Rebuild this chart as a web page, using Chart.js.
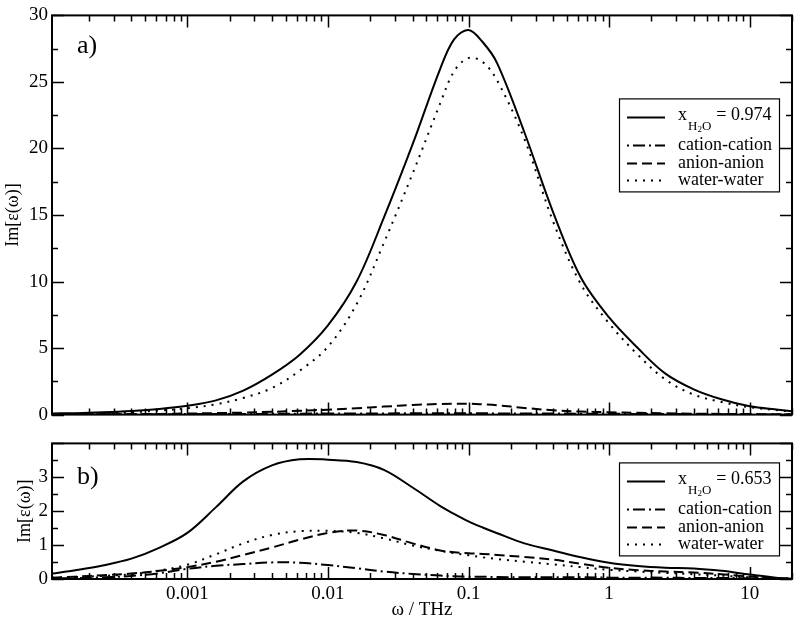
<!DOCTYPE html>
<html lang="en">
<head>
<meta charset="UTF-8">
<title>Im[ε(ω)] spectra</title>
<script src="https://cdn.jsdelivr.net/npm/chart.js"></script>
<style>
  body { margin: 0; background: #fff; }
  #wrap { position: relative; width: 800px; height: 623px; }
  #wrap canvas { position: absolute; left: 0; }
  #chartA { top: 0; }
  #chartB { top: 428px; }
</style>
</head>
<body>
<div id="wrap">
  <canvas id="chartA" width="800" height="430"></canvas>
  <canvas id="chartB" width="800" height="195"></canvas>
</div>
<script>
// frequency grid (THz), ~5 points per decade (denser round the peak), shared by every curve
const freqs = [1.09e-4, 1.6e-4, 2.5e-4, 4e-4, 6.3e-4, 0.001, 0.0016, 0.0025, 0.004, 0.0063,
  0.01, 0.016, 0.025, 0.04, 0.063, 0.079, 0.1, 0.126, 0.16, 0.25, 0.4, 0.63, 1, 1.6, 2.5, 4, 6.3, 10, 16, 20];

// panel a)  x_H2O = 0.974
const totalA  = [0.08, 0.11, 0.17, 0.27, 0.42, 0.66, 1.07, 1.8, 3.0, 4.5, 6.7, 10.0, 14.8, 20.3, 26.0, 28.2, 28.9, 28.0, 26.4, 21.2, 15.2, 10.3, 7.3, 5.0, 3.1, 1.9, 1.15, 0.62, 0.36, 0.25];
const cationA = [0.01, 0.01, 0.02, 0.02, 0.03, 0.04, 0.05, 0.05, 0.06, 0.07, 0.08, 0.09, 0.09, 0.1, 0.1, 0.1, 0.1, 0.1, 0.09, 0.08, 0.08, 0.07, 0.06, 0.05, 0.05, 0.04, 0.03, 0.02, 0.01, 0.01];
const anionA  = [0.01, 0.02, 0.02, 0.03, 0.05, 0.08, 0.11, 0.15, 0.21, 0.29, 0.37, 0.48, 0.6, 0.72, 0.8, 0.82, 0.82, 0.77, 0.7, 0.5, 0.32, 0.23, 0.18, 0.13, 0.1, 0.07, 0.05, 0.04, 0.03, 0.02];
const waterA  = [0.05, 0.07, 0.11, 0.18, 0.3, 0.48, 0.78, 1.25, 2.0, 3.3, 5.1, 8.3, 12.9, 18.1, 23.4, 25.8, 26.8, 26.5, 25.1, 20.7, 14.5, 9.8, 6.85, 4.5, 2.65, 1.5, 0.95, 0.55, 0.33, 0.22];

// panel b)  x_H2O = 0.653
const totalB  = [0.16, 0.26, 0.4, 0.6, 0.92, 1.36, 2.12, 2.88, 3.35, 3.53, 3.52, 3.45, 3.22, 2.7, 2.15, 1.92, 1.7, 1.52, 1.35, 1.05, 0.84, 0.64, 0.48, 0.38, 0.33, 0.31, 0.24, 0.13, 0.03, 0.01];
const cationB = [0.02, 0.03, 0.05, 0.09, 0.17, 0.3, 0.39, 0.44, 0.49, 0.48, 0.41, 0.32, 0.22, 0.15, 0.1, 0.08, 0.07, 0.065, 0.06, 0.05, 0.05, 0.05, 0.04, 0.04, 0.04, 0.03, 0.03, 0.02, 0.01, 0.0];
const anionB  = [0.04, 0.07, 0.11, 0.16, 0.24, 0.35, 0.51, 0.71, 0.93, 1.16, 1.36, 1.43, 1.3, 1.05, 0.84, 0.79, 0.76, 0.74, 0.71, 0.65, 0.57, 0.45, 0.33, 0.26, 0.22, 0.19, 0.14, 0.07, 0.02, 0.01];
const waterB  = [0.04, 0.06, 0.09, 0.14, 0.25, 0.42, 0.73, 1.05, 1.3, 1.41, 1.42, 1.36, 1.2, 0.99, 0.83, 0.76, 0.7, 0.64, 0.59, 0.51, 0.43, 0.35, 0.27, 0.22, 0.18, 0.14, 0.1, 0.05, 0.02, 0.01];

const xTicks = [0.001, 0.01, 0.1, 1, 10];
const xTickLabels = ['0.001', '0.01', '0.1', '1', '10'];
const yTicksA = [0, 5, 10, 15, 20, 25, 30];
const yTicksB = [0, 1, 2, 3];
const seriesNames = ['cation-cation', 'anion-anion', 'water-water'];
const mixA = '0.974';
const mixB = '0.653';

const FONT = '"Liberation Serif", "Times New Roman", serif';
Chart.defaults.font.family = FONT;
Chart.defaults.font.size = 19;
Chart.defaults.color = '#000';

// solid, dash-dot, dashed, dotted
const dashes = [[], [2, 4, 12, 4], [10, 5], [2, 6]];

function pts(ys) {
  return freqs.map((f, i) => ({ x: f, y: ys[i] }));
}

// inward ticks, frame box, panel tag and legend (xmgrace look)
function decor(p) {
  return {
    id: 'decor',
    afterDraw(chart) {
      const { ctx, chartArea: a, scales } = chart;
      const x = scales.x, y = scales.y;
      ctx.save();
      ctx.strokeStyle = '#000';
      ctx.lineWidth = 1.5;
      ctx.beginPath();
      for (let e = -4; e <= 1; e++) {
        for (let m = 1; m < 10; m++) {
          const v = m * Math.pow(10, e);
          if (v < x.min || v > x.max) continue;
          const px = Math.round(x.getPixelForValue(v)) + 0.5;
          const len = m === 1 ? 12 : 6;
          ctx.moveTo(px, a.bottom); ctx.lineTo(px, a.bottom - len);
          ctx.moveTo(px, a.top); ctx.lineTo(px, a.top + len);
        }
      }
      const n = Math.round((y.max - y.min) / p.minor);
      for (let i = 0; i <= n; i++) {
        const v = y.min + i * p.minor;
        const py = Math.round(y.getPixelForValue(v)) + 0.5;
        const len = i % 2 === 0 ? 12 : 6;
        ctx.moveTo(a.left, py); ctx.lineTo(a.left + len, py);
        ctx.moveTo(a.right, py); ctx.lineTo(a.right - len, py);
      }
      ctx.stroke();
      ctx.lineWidth = 2;
      ctx.strokeRect(a.left, a.top, a.right - a.left, a.bottom - a.top);

      // panel tag
      ctx.fillStyle = '#000';
      ctx.font = '26px ' + FONT;
      ctx.textBaseline = 'alphabetic';
      ctx.fillText(p.tag, a.left + 25, a.top + p.tagY);

      // legend box
      const bx = a.right - 173, by = a.top + p.legendTop, bw = 160, bh = 93;
      ctx.fillStyle = '#fff';
      ctx.fillRect(bx, by, bw, bh);
      ctx.lineWidth = 1.2;
      ctx.strokeRect(bx + 0.5, by + 0.5, bw, bh);
      const rows = [19, 47, 65, 82];
      ctx.lineWidth = 2;
      rows.forEach((ry, i) => {
        ctx.setLineDash(dashes[i]);
        ctx.beginPath();
        ctx.moveTo(bx + 8, by + ry);
        ctx.lineTo(bx + 46, by + ry);
        ctx.stroke();
      });
      ctx.setLineDash([]);
      ctx.fillStyle = '#000';
      const tx = bx + 59;
      // header: x_{H2O} = value
      let cx = tx;
      ctx.font = '18px ' + FONT;
      ctx.fillText('x', cx, by + rows[0] + 3);
      cx += ctx.measureText('x').width + 1;
      ctx.font = '13px ' + FONT;
      ctx.fillText('H', cx, by + rows[0] + 13);
      cx += ctx.measureText('H').width;
      ctx.font = '9px ' + FONT;
      ctx.fillText('2', cx, by + rows[0] + 15);
      cx += ctx.measureText('2').width;
      ctx.font = '13px ' + FONT;
      ctx.fillText('O', cx, by + rows[0] + 13);
      cx += ctx.measureText('O').width + 5;
      ctx.font = '18px ' + FONT;
      ctx.fillText('= ' + p.mix, cx, by + rows[0] + 3);
      seriesNames.forEach((s, i) => {
        ctx.fillText(s, tx, by + rows[i + 1] + 5);
      });
      ctx.restore();
    }
  };
}

function makeChart(id, p) {
  const sets = [p.total, p.cation, p.anion, p.water];
  const labels = ['total', ...seriesNames];
  return new Chart(document.getElementById(id), {
    type: 'line',
    data: {
      datasets: sets.map((d, i) => ({
        label: labels[i],
        data: pts(d),
        borderColor: '#000',
        borderWidth: 2,
        borderDash: dashes[i],
        pointRadius: 0,
        fill: false,
        tension: 0.35
      }))
    },
    options: {
      responsive: false,
      animation: false,
      layout: { padding: { top: p.padTop, right: 8, left: 0, bottom: 0 } },
      plugins: { legend: { display: false }, tooltip: { enabled: false } },
      scales: {
        x: {
          type: 'logarithmic',
          bounds: 'data',
          min: 1.09e-4,
          max: 20,
          grid: { display: false, drawTicks: false },
          border: { display: false },
          afterBuildTicks: s => { s.ticks = xTicks.map(v => ({ value: v })); },
          afterFit: s => { s.height = p.xHeight; },
          ticks: {
            display: p.xLabels,
            autoSkip: false,
            maxRotation: 0,
            padding: 4,
            callback: v => xTickLabels[xTicks.indexOf(v)]
          },
          title: {
            display: p.xLabels,
            text: 'ω / THz',
            padding: { top: 0, bottom: 2 }
          }
        },
        y: {
          min: 0,
          max: p.yMax,
          grid: { display: false, drawTicks: false },
          border: { display: false },
          afterBuildTicks: s => { s.ticks = p.yTicks.map(v => ({ value: v })); },
          afterFit: s => { s.width = 52; },
          ticks: { padding: 4, autoSkip: false },
          title: {
            display: true,
            text: 'Im[ε(ω)]',
            font: { size: 18 },
            padding: { top: p.yTitlePad, bottom: 0 }
          }
        }
      }
    },
    plugins: [decor(p)]
  });
}

makeChart('chartA', {
  total: totalA, cation: cationA, anion: anionA, water: waterA,
  yMax: 30, yTicks: yTicksA, minor: 2.5,
  padTop: 13, xHeight: 6, xLabels: false, yTitlePad: 2,
  tag: 'a)', tagY: 38, legendTop: 83, mix: mixA
});

makeChart('chartB', {
  total: totalB, cation: cationB, anion: anionB, water: waterB,
  yMax: 4, yTicks: yTicksB, minor: 0.5,
  padTop: 3, xHeight: 44, xLabels: true, yTitlePad: 14,
  tag: 'b)', tagY: 41, legendTop: 19, mix: mixB
});
</script>
</body>
</html>
